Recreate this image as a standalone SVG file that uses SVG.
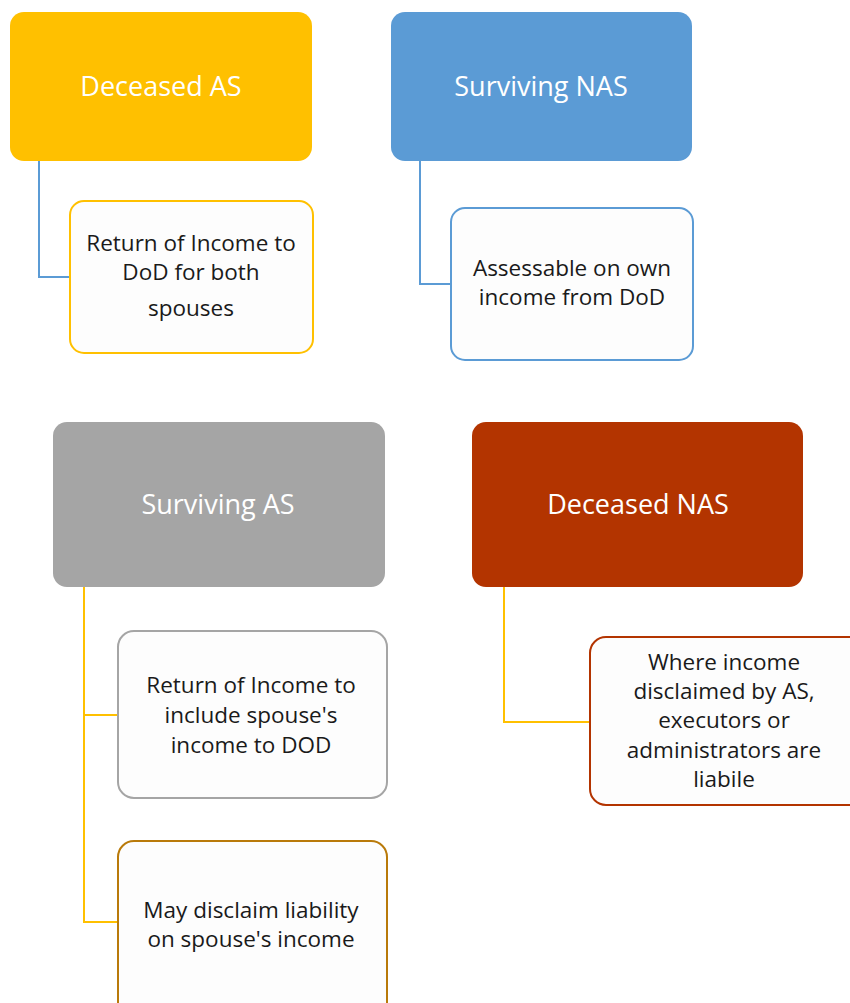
<svg xmlns="http://www.w3.org/2000/svg" width="850" height="1003" viewBox="0 0 850 1003">
<style>
.t{font-family:"Open Sans","Liberation Sans",sans-serif;font-size:27px;fill:#ffffff;text-anchor:middle}
.c{font-family:"Open Sans","Liberation Sans",sans-serif;font-size:22.5px;fill:#1a1a1a;text-anchor:middle}
.box{fill:#fdfdfd;stroke-width:2}
.ln{fill:none;stroke-width:2}
</style>
<rect width="850" height="1003" fill="#ffffff"/>
<g id="connectors">
<path class="ln" stroke="#5B9BD5" d="M39,161 V277 H70"/>
<path class="ln" stroke="#5B9BD5" d="M420,161 V284 H451"/>
<path class="ln" stroke="#FFC000" d="M84,587 V922 H118 M84,715 H118"/>
<path class="ln" stroke="#FFC000" d="M504,587 V722 H590"/>
</g>
<g id="deceased-as">
<rect x="10" y="12" width="302" height="149" rx="14" fill="#FFC000"/>
<text class="t" x="161" y="96">Deceased AS</text>
</g>
<g id="deceased-as-child">
<rect class="box" x="70" y="201" width="243" height="152" rx="14" stroke="#FFC000"/>
<text class="c" x="191" y="251">Return of Income to</text>
<text class="c" x="191" y="280">DoD for both</text>
<text class="c" x="191" y="316">spouses</text>
</g>
<g id="surviving-nas">
<rect x="391" y="12" width="301" height="149" rx="14" fill="#5B9BD5"/>
<text class="t" x="541" y="96">Surviving NAS</text>
</g>
<g id="surviving-nas-child">
<rect class="box" x="451" y="208" width="242" height="152" rx="14" stroke="#5B9BD5"/>
<text class="c" x="572" y="276">Assessable on own</text>
<text class="c" x="572" y="305">income from DoD</text>
</g>
<g id="surviving-as">
<rect x="53" y="422" width="332" height="165" rx="14" fill="#A5A5A5"/>
<text class="t" x="218" y="514">Surviving AS</text>
</g>
<g id="surviving-as-child1">
<rect class="box" x="118" y="631" width="269" height="167" rx="16" stroke="#A5A5A5"/>
<text class="c" x="251" y="693">Return of Income to</text>
<text class="c" x="251" y="723">include spouse's</text>
<text class="c" x="251" y="753">income to DOD</text>
</g>
<g id="surviving-as-child2">
<rect class="box" x="118" y="841" width="269" height="180" rx="16" stroke="#B97A0A"/>
<text class="c" x="251" y="918">May disclaim liability</text>
<text class="c" x="251" y="947">on spouse's income</text>
</g>
<g id="deceased-nas">
<rect x="472" y="422" width="331" height="165" rx="14" fill="#B33400"/>
<text class="t" x="638" y="514">Deceased NAS</text>
</g>
<g id="deceased-nas-child">
<rect class="box" x="590" y="637" width="275" height="168" rx="16" stroke="#B33400"/>
<text class="c" x="724" y="670">Where income</text>
<text class="c" x="724" y="699">disclaimed by AS,</text>
<text class="c" x="724" y="728">executors or</text>
<text class="c" x="724" y="758">administrators are</text>
<text class="c" x="724" y="787">liabile</text>
</g>
</svg>
